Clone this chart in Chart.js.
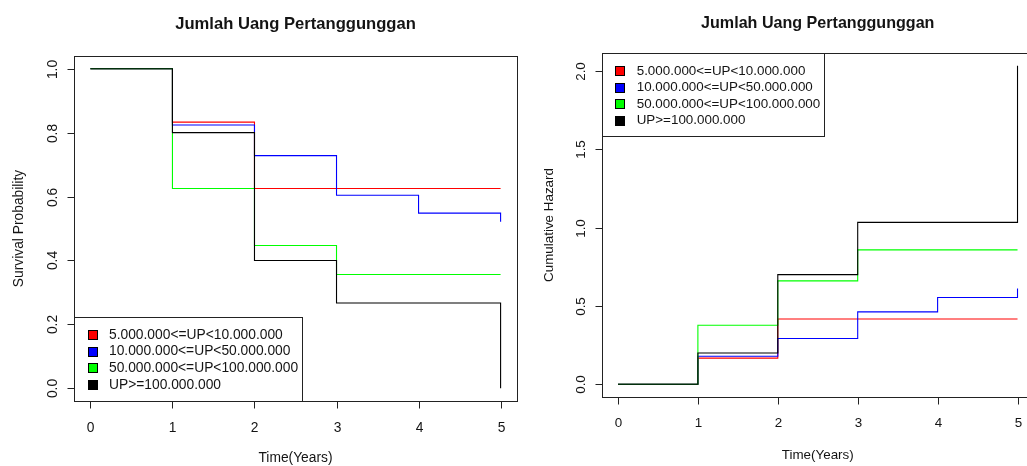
<!DOCTYPE html>
<html>
<head>
<meta charset="utf-8">
<script src="https://cdn.jsdelivr.net/npm/chart.js@4.4.1/dist/chart.umd.min.js"></script>
<style>
  html, body { margin: 0; padding: 0; background: #ffffff; overflow: hidden; width: 1027px; height: 466px; }
  canvas { position: absolute; top: 0; }
  #survival { left: 0; }
  #hazard { left: 530px; }
</style>
</head>
<body>
<canvas id="survival" width="530" height="466"></canvas>
<canvas id="hazard" width="520" height="466"></canvas>
<script>
// Groups by sum insured (Uang Pertanggungan)
const groupLabels = [
  '5.000.000<=UP<10.000.000',
  '10.000.000<=UP<50.000.000',
  '50.000.000<=UP<100.000.000',
  'UP>=100.000.000'
];
const groupColors = ['#ff0000', '#0000ff', '#00ff00', '#000000'];

// Event times (years) for each group
const timeRed   = [0, 1, 2, 5];
const timeBlue  = [0, 1, 2, 3, 4, 5];
const timeGreen = [0, 1, 2, 3, 5];
const timeBlack = [0, 1, 2, 3, 5];

// Kaplan-Meier survival estimates
const survRed   = [1, 0.833, 0.625, 0.625];
const survBlue  = [1, 0.824, 0.728, 0.604, 0.548, 0.521];
const survGreen = [1, 0.625, 0.447, 0.356, 0.356];
const survBlack = [1, 0.8, 0.4, 0.267, 0];

// Nelson-Aalen cumulative hazard estimates
const hazRed   = [0, 0.167, 0.417, 0.417];
const hazBlue  = [0, 0.179, 0.292, 0.462, 0.554, 0.611];
const hazGreen = [0, 0.377, 0.66, 0.858, 0.858];
const hazBlack = [0, 0.2, 0.7, 1.033, 2.033];

// Axis ticks
const xTicks = [0, 1, 2, 3, 4, 5];
const survTicks = [0, 0.2, 0.4, 0.6, 0.8, 1.0];
const survTickLabels = ['0.0', '0.2', '0.4', '0.6', '0.8', '1.0'];
const hazTicks = [0, 0.5, 1.0, 1.5, 2.0];
const hazTickLabels = ['0.0', '0.5', '1.0', '1.5', '2.0'];

const titleText = 'Jumlah Uang Pertanggunggan';
const xTitle = 'Time(Years)';

const FONT = '"Liberation Sans", Arial, Helvetica, sans-serif';
const INK = '#141414';

function toPoints(times, values) {
  return times.map((t, i) => ({ x: t, y: values[i] }));
}

function buildDatasets(series) {
  // black drawn last so it sits on top, as in the original plotting order
  return series.map((s, i) => ({
    label: groupLabels[i],
    data: toPoints(s.t, s.v),
    borderColor: groupColors[i],
    borderWidth: 1.1,
    pointRadius: 0,
    stepped: true,
    fill: false,
    order: series.length - i
  }));
}

// Base-graphics style frame: box, outward ticks, rotated y labels, titles, legend
function framePlugin(cfg) {
  return {
    id: 'frame_' + cfg.key,
    afterDatasetsDraw(chart) {
      const ctx = chart.ctx;
      const a = chart.chartArea;
      const xs = chart.scales.x, ys = chart.scales.y;
      const f = cfg.font;
      ctx.save();
      ctx.strokeStyle = '#222';
      ctx.lineWidth = 1;
      const L = Math.round(a.left) + 0.5, T = Math.round(a.top) + 0.5;
      const R = Math.round(a.right) + 0.5, B = Math.round(a.bottom) + 0.5;
      ctx.strokeRect(L, T, R - L, B - T);

      // x ticks
      ctx.fillStyle = INK;
      ctx.font = f + 'px ' + FONT;
      ctx.textAlign = 'center';
      ctx.textBaseline = 'alphabetic';
      xTicks.forEach(v => {
        const px = Math.round(xs.getPixelForValue(v)) + 0.5;
        ctx.beginPath();
        ctx.moveTo(px, B);
        ctx.lineTo(px, B + cfg.tickLen);
        ctx.stroke();
        ctx.fillText(String(v), px, cfg.xLabelBase);
      });
      // y ticks (labels parallel to the axis)
      cfg.yTicks.forEach((v, i) => {
        const py = Math.round(ys.getPixelForValue(v)) + 0.5;
        ctx.beginPath();
        ctx.moveTo(L, py);
        ctx.lineTo(L - cfg.tickLen, py);
        ctx.stroke();
        ctx.save();
        ctx.translate(cfg.yLabelBase, py);
        ctx.rotate(-Math.PI / 2);
        ctx.fillText(cfg.yTickLabels[i], 0, 0);
        ctx.restore();
      });
      // axis titles
      const cx = (a.left + a.right) / 2, cy = (a.top + a.bottom) / 2;
      ctx.fillText(xTitle, cx, cfg.xTitleBase);
      ctx.save();
      ctx.translate(cfg.yTitleBase, cy);
      ctx.rotate(-Math.PI / 2);
      ctx.fillText(cfg.yTitle, 0, 0);
      ctx.restore();
      // main title
      ctx.font = 'bold ' + cfg.titleFont + 'px ' + FONT;
      ctx.fillText(titleText, cx, cfg.titleBase);

      // legend
      const lg = cfg.legend;
      ctx.fillStyle = '#ffffff';
      ctx.fillRect(lg.x + 0.5, lg.y + 0.5, lg.w, lg.h);
      ctx.strokeRect(Math.round(lg.x) + 0.5, Math.round(lg.y) + 0.5, Math.round(lg.w), Math.round(lg.h));
      ctx.font = f + 'px ' + FONT;
      ctx.textAlign = 'left';
      ctx.textBaseline = 'middle';
      groupLabels.forEach((lab, i) => {
        const yy = lg.firstRow + i * lg.rowGap;
        const sx = Math.round(lg.boxX) + 0.5, sy = Math.round(yy - lg.box / 2) + 0.5;
        ctx.fillStyle = groupColors[i];
        ctx.fillRect(sx, sy, lg.box, lg.box);
        ctx.strokeStyle = '#000';
        ctx.strokeRect(sx, sy, lg.box, lg.box);
        ctx.fillStyle = INK;
        ctx.fillText(lab, lg.textX, yy + 0.5);
      });
      ctx.restore();
    }
  };
}

function makeChart(id, series, yMin, yMax, padding, cfg) {
  return new Chart(document.getElementById(id), {
    type: 'line',
    data: { datasets: buildDatasets(series) },
    options: {
      responsive: false,
      animation: false,
      devicePixelRatio: 1,
      layout: { padding },
      scales: {
        x: { type: 'linear', min: -0.2, max: 5.2, display: false },
        y: { type: 'linear', min: yMin, max: yMax, display: false }
      },
      plugins: { legend: { display: false }, title: { display: false }, tooltip: { enabled: false } }
    },
    plugins: [framePlugin(cfg)]
  });
}

makeChart('survival', [
  { t: timeRed, v: survRed },
  { t: timeBlue, v: survBlue },
  { t: timeGreen, v: survGreen },
  { t: timeBlack, v: survBlack }
], -0.04, 1.04, { left: 74, top: 56, right: 13, bottom: 65 }, {
  key: 'surv', font: 13.8, titleFont: 16.6, tickLen: 7,
  yTicks: survTicks, yTickLabels: survTickLabels, yTitle: 'Survival Probability',
  xLabelBase: 431.5, yLabelBase: 56.5, xTitleBase: 461.5, yTitleBase: 23.3, titleBase: 29,
  legend: { x: 74, y: 317, w: 228, h: 84, boxX: 88, box: 9, firstRow: 334.3, rowGap: 16.8, textX: 109 }
});

makeChart('hazard', [
  { t: timeRed, v: hazRed },
  { t: timeBlue, v: hazBlue },
  { t: timeGreen, v: hazGreen },
  { t: timeBlack, v: hazBlack }
], -0.0813, 2.1143, { left: 72, top: 53, right: 16.5, bottom: 69 }, {
  key: 'haz', font: 13.4, titleFont: 16.1, tickLen: 7,
  yTicks: hazTicks, yTickLabels: hazTickLabels, yTitle: 'Cumulative Hazard',
  xLabelBase: 427, yLabelBase: 55, xTitleBase: 458.6, yTitleBase: 23.3, titleBase: 27.5,
  legend: { x: 72, y: 53, w: 222, h: 83, boxX: 85, box: 9, firstRow: 70.7, rowGap: 16.45, textX: 106.7 }
});
</script>
</body>
</html>
